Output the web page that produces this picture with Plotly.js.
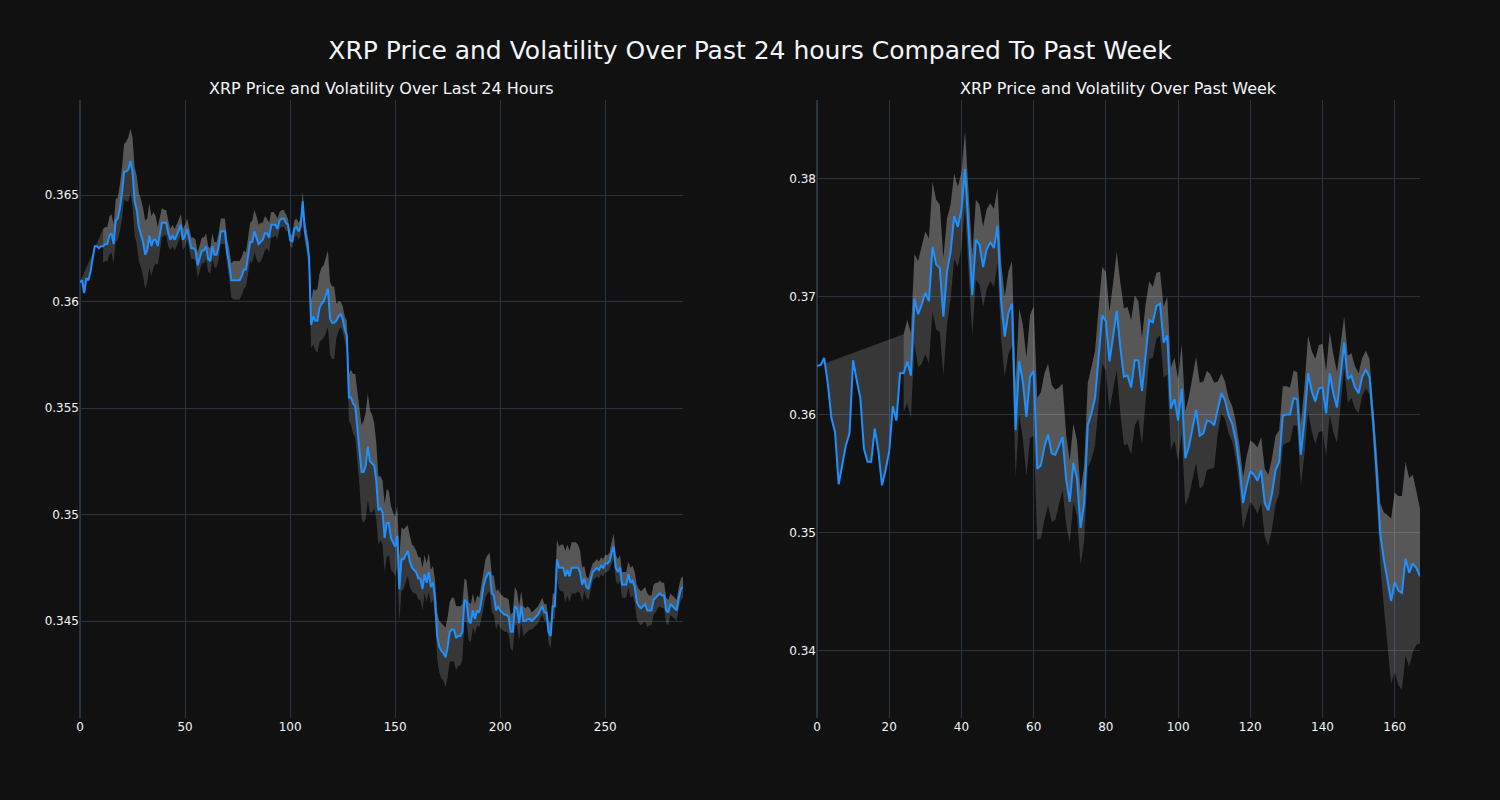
<!DOCTYPE html>
<html>
<head>
<meta charset="utf-8">
<script src="https://cdn.plot.ly/plotly-3.0.1.min.js"></script>
<style>html,body{margin:0;padding:0;background:#111111;}#chart{width:1500px;height:800px;}</style>
</head>
<body>
<div id="chart"></div>
<script>
// ---- Data: last 24 hours (5-minute steps) ----
const price24h = [
0.3609,0.3610,0.3604,0.3611,0.3610,0.3614,0.3620,0.3626,0.3626,0.3625,
0.3626,0.3626,0.3627,0.3627,0.3631,0.3632,0.3627,0.3638,0.3639,0.3644,
0.3651,0.3661,0.3661,0.3662,0.3666,0.3661,0.3647,0.3643,0.3635,0.3632,
0.3628,0.3622,0.3624,0.3631,0.3626,0.3629,0.3629,0.3626,0.3632,0.3637,
0.3637,0.3637,0.3632,0.3629,0.3631,0.3629,0.3631,0.3634,0.3636,0.3629,
0.3631,0.3634,0.3629,0.3625,0.3625,0.3624,0.3617,0.3620,0.3624,0.3624,
0.3626,0.3620,0.3619,0.3626,0.3622,0.3622,0.3626,0.3633,0.3633,0.3633,
0.3623,0.3618,0.3610,0.3610,0.3610,0.3610,0.3610,0.3612,0.3615,0.3615,
0.3622,0.3628,0.3628,0.3633,0.3630,0.3627,0.3628,0.3629,0.3632,0.3632,
0.3630,0.3636,0.3636,0.3636,0.3634,0.3638,0.3639,0.3639,0.3637,0.3636,
0.3629,0.3628,0.3634,0.3635,0.3633,0.3635,0.3647,0.3633,0.3628,0.3621,
0.3589,0.3593,0.3591,0.3591,0.3597,0.3599,0.3600,0.3603,0.3606,0.3592,
0.3590,0.3590,0.3591,0.3593,0.3594,0.3592,0.3587,0.3584,0.3555,0.3555,
0.3552,0.3551,0.3541,0.3532,0.3520,0.3520,0.3523,0.3532,0.3525,0.3524,
0.3523,0.3516,0.3502,0.3503,0.3501,0.3489,0.3496,0.3496,0.3489,0.3487,
0.3485,0.3490,0.3465,0.3479,0.3479,0.3481,0.3483,0.3478,0.3475,0.3474,
0.3473,0.3470,0.3470,0.3465,0.3472,0.3468,0.3473,0.3466,0.3468,0.3460,
0.3443,0.3438,0.3436,0.3435,0.3433,0.3438,0.3445,0.3446,0.3446,0.3442,
0.3443,0.3443,0.3445,0.3460,0.3459,0.3450,0.3449,0.3455,0.3451,0.3455,
0.3454,0.3459,0.3466,0.3470,0.3472,0.3473,0.3463,0.3462,0.3455,0.3457,
0.3455,0.3454,0.3453,0.3453,0.3452,0.3445,0.3445,0.3457,0.3456,0.3449,
0.3457,0.3450,0.3450,0.3451,0.3451,0.3450,0.3451,0.3452,0.3453,0.3455,
0.3457,0.3454,0.3454,0.3445,0.3443,0.3457,0.3457,0.3479,0.3475,0.3475,
0.3475,0.3471,0.3474,0.3471,0.3475,0.3475,0.3475,0.3475,0.3473,0.3467,
0.3470,0.3466,0.3465,0.3469,0.3473,0.3474,0.3475,0.3474,0.3476,0.3475,
0.3477,0.3477,0.3478,0.3482,0.3485,0.3475,0.3473,0.3475,0.3467,0.3467,
0.3467,0.3472,0.3468,0.3469,0.3466,0.3459,0.3457,0.3456,0.3457,0.3458,
0.3455,0.3455,0.3455,0.3460,0.3461,0.3462,0.3463,0.3462,0.3462,0.3455,
0.3454,0.3458,0.3457,0.3456,0.3455,0.3461,0.3465,0.3466
];
const vol24h = [
null,null,null,null,null,null,null,null,null,null,
null,0.0008,0.0008,0.0008,0.0009,0.0009,0.0009,0.0010,0.0010,0.0011,
0.0012,0.0013,0.0014,0.0015,0.0015,0.0016,0.0016,0.0016,0.0016,0.0016,
0.0016,0.0016,0.0015,0.0015,0.0014,0.0013,0.0011,0.0009,0.0008,0.0007,
0.0006,0.0006,0.0006,0.0005,0.0005,0.0005,0.0005,0.0005,0.0005,0.0005,
0.0005,0.0005,0.0005,0.0005,0.0005,0.0005,0.0006,0.0006,0.0006,0.0006,
0.0006,0.0006,0.0006,0.0006,0.0006,0.0006,0.0006,0.0006,0.0006,0.0006,
0.0006,0.0007,0.0008,0.0009,0.0009,0.0009,0.0009,0.0009,0.0009,0.0008,
0.0008,0.0009,0.0010,0.0010,0.0010,0.0009,0.0009,0.0008,0.0008,0.0007,
0.0007,0.0006,0.0006,0.0005,0.0005,0.0004,0.0004,0.0004,0.0004,0.0003,
0.0003,0.0003,0.0004,0.0004,0.0004,0.0004,0.0005,0.0005,0.0005,0.0006,
0.0011,0.0013,0.0014,0.0015,0.0016,0.0017,0.0017,0.0018,0.0018,0.0017,
0.0017,0.0017,0.0008,0.0007,0.0006,0.0006,0.0006,0.0007,0.0011,0.0013,
0.0014,0.0015,0.0016,0.0018,0.0022,0.0024,0.0025,0.0025,0.0024,0.0023,
0.0020,0.0018,0.0016,0.0015,0.0015,0.0016,0.0016,0.0015,0.0015,0.0014,
0.0014,0.0014,0.0015,0.0015,0.0014,0.0013,0.0012,0.0012,0.0011,0.0011,
0.0010,0.0010,0.0010,0.0010,0.0009,0.0009,0.0009,0.0008,0.0008,0.0009,
0.0011,0.0012,0.0013,0.0013,0.0014,0.0014,0.0014,0.0015,0.0015,0.0015,
0.0014,0.0014,0.0013,0.0010,0.0010,0.0009,0.0009,0.0008,0.0007,0.0007,
0.0007,0.0008,0.0009,0.0009,0.0009,0.0009,0.0009,0.0009,0.0009,0.0008,
0.0008,0.0008,0.0008,0.0008,0.0008,0.0008,0.0009,0.0009,0.0008,0.0008,
0.0007,0.0007,0.0006,0.0006,0.0005,0.0004,0.0004,0.0004,0.0004,0.0004,
0.0004,0.0004,0.0004,0.0005,0.0006,0.0006,0.0006,0.0009,0.0010,0.0011,
0.0011,0.0012,0.0012,0.0012,0.0012,0.0012,0.0012,0.0011,0.0010,0.0008,
0.0006,0.0005,0.0005,0.0005,0.0004,0.0004,0.0004,0.0004,0.0004,0.0004,
0.0004,0.0004,0.0004,0.0005,0.0006,0.0006,0.0006,0.0006,0.0006,0.0006,
0.0006,0.0006,0.0007,0.0007,0.0007,0.0008,0.0008,0.0008,0.0008,0.0008,
0.0008,0.0007,0.0007,0.0007,0.0007,0.0006,0.0006,0.0006,0.0006,0.0006,
0.0006,0.0005,0.0005,0.0005,0.0005,0.0005,0.0005,0.0005
];

// ---- Data: past week (hourly steps) ----
const priceWeek = [
0.3641,0.3642,0.3648,0.3626,0.3597,0.3585,0.3541,0.3557,0.3574,0.3584,
0.3646,0.3629,0.3614,0.3571,0.3560,0.3560,0.3588,0.3569,0.3540,0.3553,
0.3569,0.3607,0.3595,0.3635,0.3635,0.3645,0.3633,0.3698,0.3685,0.3693,
0.3703,0.3696,0.3742,0.3727,0.3724,0.3683,0.3721,0.3738,0.3768,0.3759,
0.3773,0.3808,0.3753,0.3701,0.3748,0.3744,0.3725,0.3740,0.3746,0.3741,
0.3760,0.3696,0.3666,0.3686,0.3694,0.3587,0.3645,0.3628,0.3598,0.3632,
0.3637,0.3554,0.3557,0.3573,0.3583,0.3567,0.3566,0.3573,0.3581,0.3545,
0.3526,0.3559,0.3546,0.3504,0.3525,0.3591,0.3601,0.3614,0.3649,0.3684,
0.3679,0.3645,0.3666,0.3688,0.3657,0.3632,0.3633,0.3623,0.3646,0.3646,
0.3620,0.3653,0.3680,0.3678,0.3692,0.3694,0.3661,0.3667,0.3605,0.3613,
0.3595,0.3622,0.3563,0.3573,0.3588,0.3604,0.3582,0.3584,0.3595,0.3594,
0.3591,0.3606,0.3618,0.3612,0.3599,0.3592,0.3578,0.3556,0.3525,0.3540,
0.3552,0.3549,0.3544,0.3553,0.3525,0.3519,0.3533,0.3553,0.3560,0.3599,
0.3600,0.3600,0.3614,0.3613,0.3566,0.3595,0.3635,0.3620,0.3611,0.3622,
0.3623,0.3601,0.3635,0.3618,0.3606,0.3633,0.3661,0.3630,0.3633,0.3623,
0.3618,0.3632,0.3638,0.3632,0.3595,0.3550,0.3499,0.3477,0.3460,0.3442,
0.3458,0.3451,0.3449,0.3478,0.3466,0.3474,0.3470,0.3463
];
const volWeek = [
null,null,null,null,null,null,null,null,null,null,
null,null,null,null,null,null,null,null,null,null,
null,null,null,null,0.0033,0.0035,0.0036,0.0038,0.0045,0.0050,
0.0052,0.0053,0.0055,0.0055,0.0054,0.0050,0.0045,0.0040,0.0036,0.0034,
0.0032,0.0032,0.0034,0.0034,0.0034,0.0034,0.0034,0.0034,0.0033,0.0033,
0.0032,0.0033,0.0034,0.0035,0.0036,0.0040,0.0045,0.0048,0.0050,0.0052,
0.0055,0.0060,0.0062,0.0062,0.0060,0.0058,0.0055,0.0050,0.0045,0.0038,
0.0035,0.0033,0.0032,0.0031,0.0032,0.0036,0.0039,0.0040,0.0041,0.0041,
0.0042,0.0042,0.0045,0.0050,0.0055,0.0058,0.0058,0.0057,0.0055,0.0050,
0.0045,0.0040,0.0033,0.0030,0.0028,0.0027,0.0030,0.0033,0.0035,0.0035,
0.0035,0.0038,0.0040,0.0042,0.0044,0.0045,0.0045,0.0044,0.0042,0.0040,
0.0036,0.0022,0.0017,0.0016,0.0015,0.0015,0.0016,0.0018,0.0022,0.0025,
0.0026,0.0027,0.0028,0.0028,0.0029,0.0030,0.0030,0.0029,0.0027,0.0025,
0.0024,0.0023,0.0023,0.0023,0.0026,0.0029,0.0032,0.0034,0.0036,0.0037,
0.0037,0.0036,0.0035,0.0033,0.0030,0.0026,0.0022,0.0020,0.0019,0.0018,
0.0017,0.0016,0.0016,0.0015,0.0015,0.0020,0.0026,0.0040,0.0055,0.0070,
0.0076,0.0080,0.0082,0.0082,0.0080,0.0075,0.0065,0.0057
];

const titleMain = "XRP Price and Volatility Over Past 24 hours Compared To Past Week";
const titleLeft = "XRP Price and Volatility Over Last 24 Hours";
const titleRight = "XRP Price and Volatility Over Past Week";

function idx(n){ const a=[]; for(let i=0;i<n;i++) a.push(i); return a; }
function band(p, v, sign){ return p.map((y,i)=> v[i]===null ? null : y + sign*v[i]); }

const FILL = 'rgba(255,255,255,0.16)';
const LINE = '#1e90ff';

function traces(p, v, xa, ya){
  const x = idx(p.length);
  return [
    {x, y:p, type:'scatter', mode:'lines', line:{width:0, color:LINE}, xaxis:xa, yaxis:ya, hoverinfo:'skip'},
    {x, y:band(p,v,1), type:'scatter', mode:'lines', line:{width:0, color:'rgba(0,0,0,0)'}, fill:'tonexty', fillcolor:FILL, xaxis:xa, yaxis:ya},
    {x, y:band(p,v,-1), type:'scatter', mode:'lines', line:{width:0, color:'rgba(0,0,0,0)'}, fill:'tonexty', fillcolor:FILL, xaxis:xa, yaxis:ya},
    {x, y:p, type:'scatter', mode:'lines', line:{width:2, color:LINE}, xaxis:xa, yaxis:ya}
  ];
}

const data = [].concat(traces(price24h, vol24h, 'x', 'y'), traces(priceWeek, volWeek, 'x2', 'y2'));

const axisStyle = {
  gridcolor:'#283442', zerolinecolor:'#283442', zerolinewidth:2, linecolor:'#506784',
  showline:false, ticks:'', tickfont:{size:12, color:'#f2f5fa'}
};

const layout = {
  width:1500, height:800,
  paper_bgcolor:'#111111', plot_bgcolor:'#111111',
  font:{family:'"DejaVu Sans", sans-serif', color:'#f2f5fa', size:12},
  margin:{l:80, r:80, t:100, b:82},
  showlegend:false,
  title:{text:titleMain, x:0.5, xanchor:'center', y:0.9375, yref:'container', yanchor:'middle', font:{size:25, color:'#f2f5fa'}},
  xaxis:Object.assign({}, axisStyle, {domain:[0,0.45], anchor:'y', range:[0,287], dtick:50, zeroline:true}),
  yaxis:Object.assign({}, axisStyle, {anchor:'x', range:[0.34045,0.36946], dtick:0.005, zeroline:false}),
  xaxis2:Object.assign({}, axisStyle, {domain:[0.55,1], anchor:'y2', range:[0,167], dtick:20, zeroline:true}),
  yaxis2:Object.assign({}, axisStyle, {anchor:'x2', range:[0.3343,0.38664], dtick:0.01, zeroline:false}),
  annotations:[
    {text:titleLeft, x:0.225, y:1, xref:'paper', yref:'paper', xanchor:'center', yanchor:'bottom', showarrow:false, font:{size:16, color:'#f2f5fa'}},
    {text:titleRight, x:0.775, y:1, xref:'paper', yref:'paper', xanchor:'center', yanchor:'bottom', showarrow:false, font:{size:16, color:'#f2f5fa'}}
  ]
};

Plotly.newPlot('chart', data, layout, {displayModeBar:false, staticPlot:true});
</script>
</body>
</html>
